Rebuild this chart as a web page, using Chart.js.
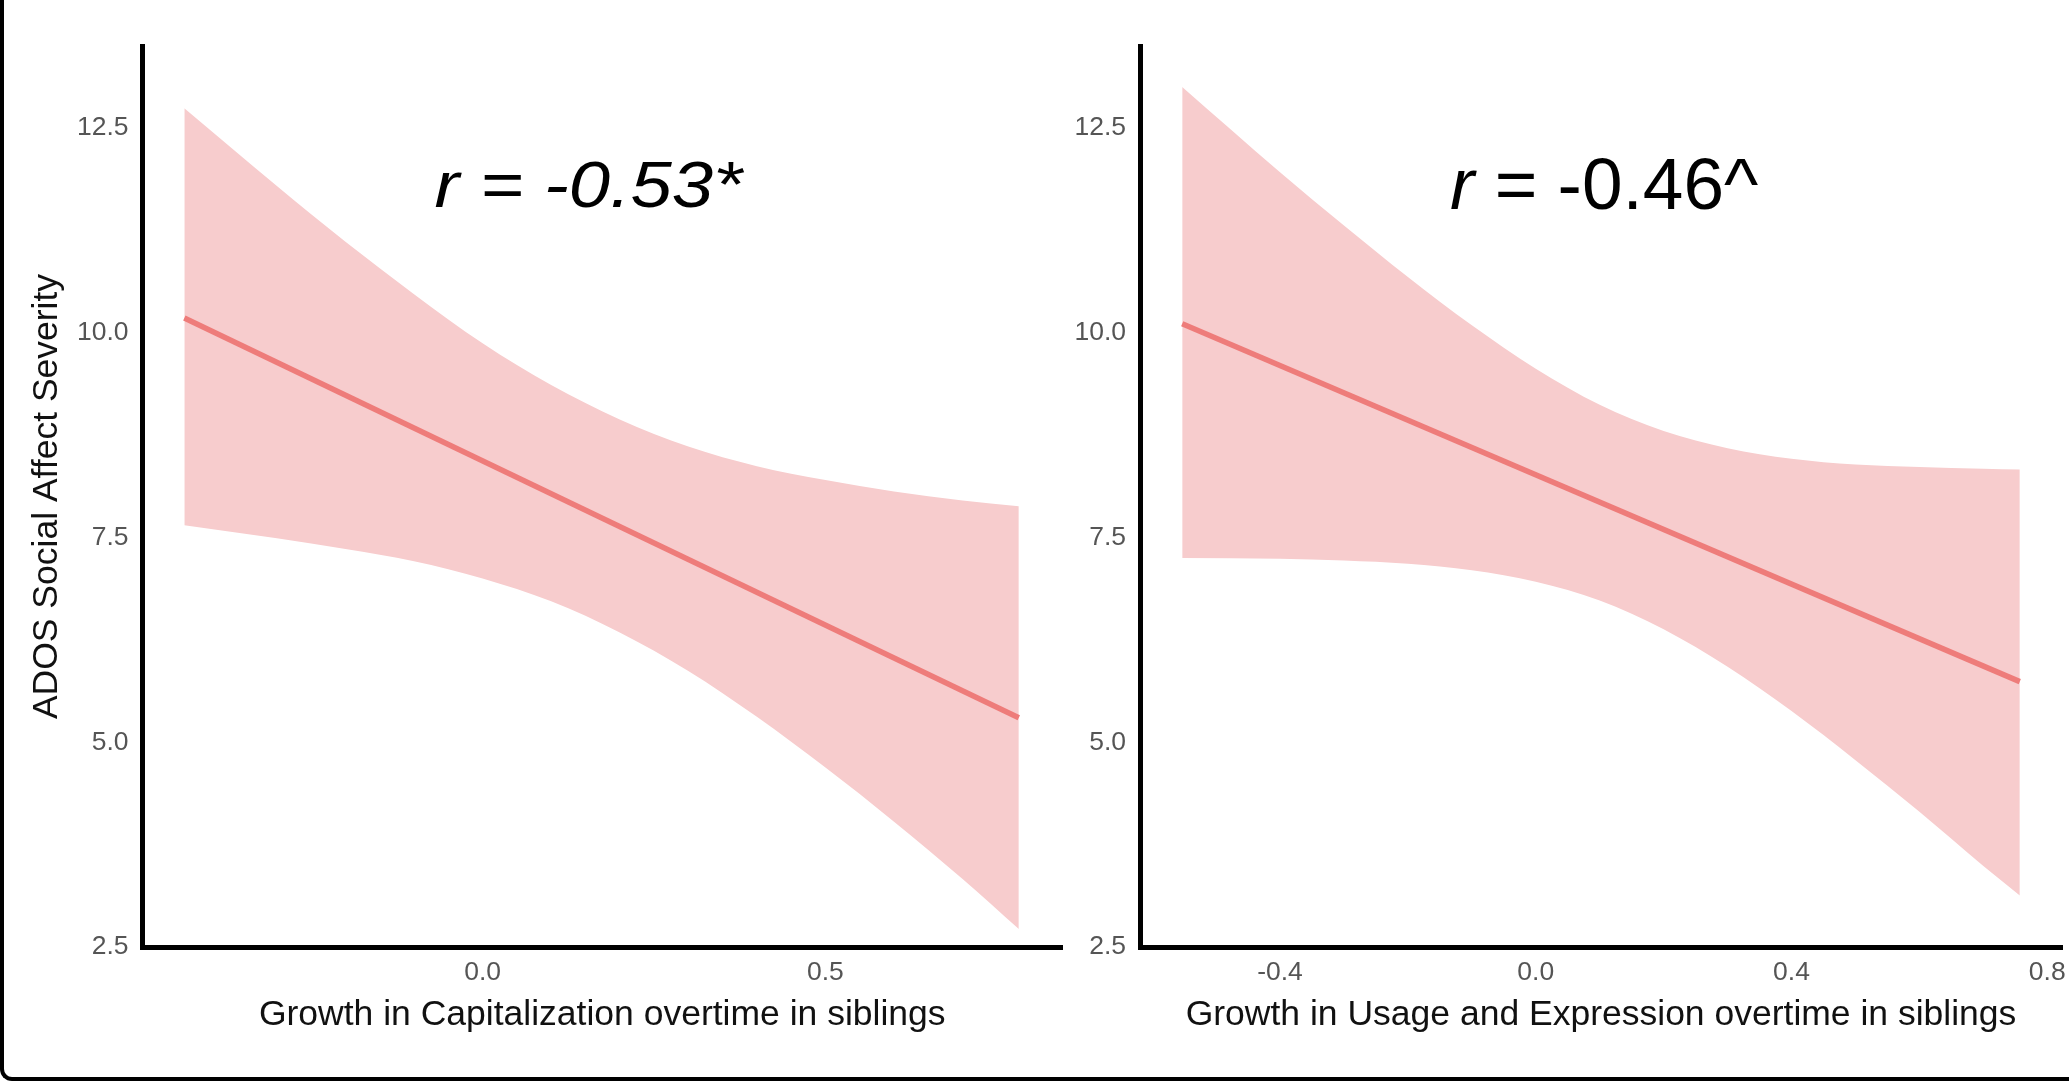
<!DOCTYPE html>
<html>
<head>
<meta charset="utf-8">
<script src="https://cdn.jsdelivr.net/npm/chart.js@4.4.1/dist/chart.umd.min.js"></script>
<style>
  html, body { margin: 0; padding: 0; background: #fff; }
  body { width: 2069px; height: 1081px; position: relative; overflow: hidden; }
  #frame {
    position: absolute; left: 0; top: -20px; width: 2200px; height: 1101px;
    border-left: 4px solid #000; border-bottom: 4px solid #000;
    border-bottom-left-radius: 12px; box-sizing: border-box;
  }
  .panel { position: absolute; top: 0; height: 1081px; }
  #leftPanel { left: 0; width: 1100px; }
  #rightPanel { left: 1070px; width: 1040px; }
</style>
</head>
<body>
<div id="frame"></div>
<div class="panel" id="leftPanel"><canvas id="capChart"></canvas></div>
<div class="panel" id="rightPanel"><canvas id="useChart"></canvas></div>

<script>
// y ticks shared by both panels
const yTicks = [2.5, 5.0, 7.5, 10.0, 12.5];

// left panel: Growth in Capitalization
const capX     = [-0.435, -0.3, -0.2, -0.1, 0.0, 0.1, 0.2, 0.3, 0.4, 0.5, 0.6, 0.7, 0.782];
const capUpper = [12.74, 11.79, 11.11, 10.47, 9.87, 9.36, 8.94, 8.61, 8.37, 8.20, 8.06, 7.95, 7.88];
const capLower = [7.65, 7.49, 7.36, 7.21, 7.00, 6.72, 6.34, 5.87, 5.31, 4.69, 4.03, 3.33, 2.72];
const capFitX  = [-0.435, 0.782];
const capFitY  = [10.18, 5.30];
const capXTicks = [0.0, 0.5];

// right panel: Growth in Usage and Expression
const useX     = [-0.553, -0.4, -0.3, -0.2, -0.1, 0.0, 0.1, 0.2, 0.3, 0.4, 0.5, 0.6, 0.7, 0.757];
const useUpper = [13.0, 11.96, 11.31, 10.68, 10.09, 9.56, 9.12, 8.80, 8.59, 8.46, 8.39, 8.36, 8.34, 8.33];
const useLower = [7.25, 7.24, 7.22, 7.18, 7.10, 6.96, 6.73, 6.38, 5.92, 5.38, 4.78, 4.15, 3.49, 3.13];
const useFitX  = [-0.553, 0.757];
const useFitY  = [10.11, 5.74];
const useXTicks = [-0.4, 0.0, 0.4, 0.8];

const ribbonColor = '#f7cccd';
const lineColor = '#ee7c7a';
const fontFamily = '"Liberation Sans", Arial, Helvetica, sans-serif';
Chart.defaults.font.family = fontFamily;

// draws the "r = ..." text at a data position
const rLabelPlugin = {
    id: 'rLabel',
    afterDatasetsDraw(chart, args, opts) {
        if (!opts || !opts.parts) return;
        const ctx = chart.ctx;
        const px = chart.scales.x.getPixelForValue(opts.x);
        const py = chart.scales.y.getPixelForValue(opts.y);
        ctx.save();
        ctx.translate(px, py);
        ctx.scale(opts.stretch || 1, 1);
        ctx.fillStyle = '#000';
        ctx.textBaseline = 'alphabetic';
        ctx.textAlign = 'left';
        let cx = 0;
        opts.parts.forEach(p => {
            ctx.font = (p.italic ? 'italic ' : '') + opts.size + 'px ' + fontFamily;
            ctx.fillText(p.text, cx, 0);
            cx += ctx.measureText(p.text).width;
        });
        ctx.restore();
    }
};

function toPoints(xs, ys) {
    return xs.map((x, i) => ({ x: x, y: ys[i] }));
}

function makePanel(id, cfg) {
    return new Chart(document.getElementById(id), {
        type: 'line',
        data: {
            datasets: [
                {
                    data: toPoints(cfg.x, cfg.upper),
                    fill: '+1',
                    order: 2,
                    backgroundColor: ribbonColor,
                    borderColor: 'rgba(0,0,0,0)',
                    borderWidth: 0,
                    pointRadius: 0,
                    cubicInterpolationMode: 'monotone'
                },
                {
                    data: toPoints(cfg.x, cfg.lower),
                    fill: false,
                    order: 3,
                    borderColor: 'rgba(0,0,0,0)',
                    borderWidth: 0,
                    pointRadius: 0,
                    cubicInterpolationMode: 'monotone'
                },
                {
                    // fitted line, drawn on top of the ribbon
                    data: toPoints(cfg.fitX, cfg.fitY),
                    fill: false,
                    order: 0,
                    borderColor: lineColor,
                    borderWidth: 5.5,
                    pointRadius: 0
                }
            ]
        },
        options: {
            responsive: true,
            maintainAspectRatio: false,
            animation: false,
            layout: { padding: { top: 46, right: cfg.padRight, left: 0, bottom: 0 } },
            plugins: {
                legend: { display: false },
                tooltip: { enabled: false },
                rLabel: cfg.label
            },
            scales: {
                x: {
                    type: 'linear',
                    min: cfg.xMin,
                    max: cfg.xMax,
                    grid: { display: false, drawTicks: false },
                    border: { display: true, color: '#000', width: 5 },
                    afterBuildTicks: s => { s.ticks = cfg.xTicks.map(v => ({ value: v })); },
                    afterFit: s => { s.height = 134; },
                    ticks: {
                        padding: 10,
                        color: '#555',
                        font: { size: 26.5 },
                        callback: v => v.toFixed(1)
                    },
                    title: {
                        display: true,
                        text: cfg.xTitle,
                        color: '#111',
                        font: { size: 35.5 },
                        padding: { top: 0, bottom: 44 }
                    }
                },
                y: {
                    type: 'linear',
                    min: 2.5,
                    max: 13.5,
                    grid: { display: false, drawTicks: false },
                    border: { display: true, color: '#000', width: 5 },
                    afterBuildTicks: s => { s.ticks = yTicks.map(v => ({ value: v })); },
                    afterFit: s => { s.width = cfg.yWidth; },
                    ticks: {
                        padding: 14,
                        color: '#555',
                        font: { size: 26.5 },
                        callback: v => v.toFixed(1)
                    },
                    title: {
                        display: !!cfg.yTitle,
                        text: cfg.yTitle || '',
                        color: '#111',
                        font: { size: 35.5 },
                        padding: { top: 26, bottom: 0 }
                    }
                }
            }
        },
        plugins: [rLabelPlugin]
    });
}

makePanel('capChart', {
    x: capX, upper: capUpper, lower: capLower, fitX: capFitX, fitY: capFitY,
    xTicks: capXTicks, xMin: -0.496, xMax: 0.845,
    xTitle: 'Growth in Capitalization overtime in siblings',
    yTitle: 'ADOS Social Affect Severity',
    yWidth: 142.5, padRight: 38,
    label: { parts: [{ text: 'r = -0.53*', italic: true }], x: -0.07, y: 11.535, size: 64, stretch: 1.16 }
});

makePanel('useChart', {
    x: useX, upper: useUpper, lower: useLower, fitX: useFitX, fitY: useFitY,
    xTicks: useXTicks, xMin: -0.619, xMax: 0.823,
    xTitle: 'Growth in Usage and Expression overtime in siblings',
    yTitle: null,
    yWidth: 70, padRight: 48,
    label: { parts: [{ text: 'r', italic: true }, { text: ' = -0.46^', italic: false }], x: -0.134, y: 11.51, size: 73, stretch: 1 }
});
</script>
</body>
</html>
